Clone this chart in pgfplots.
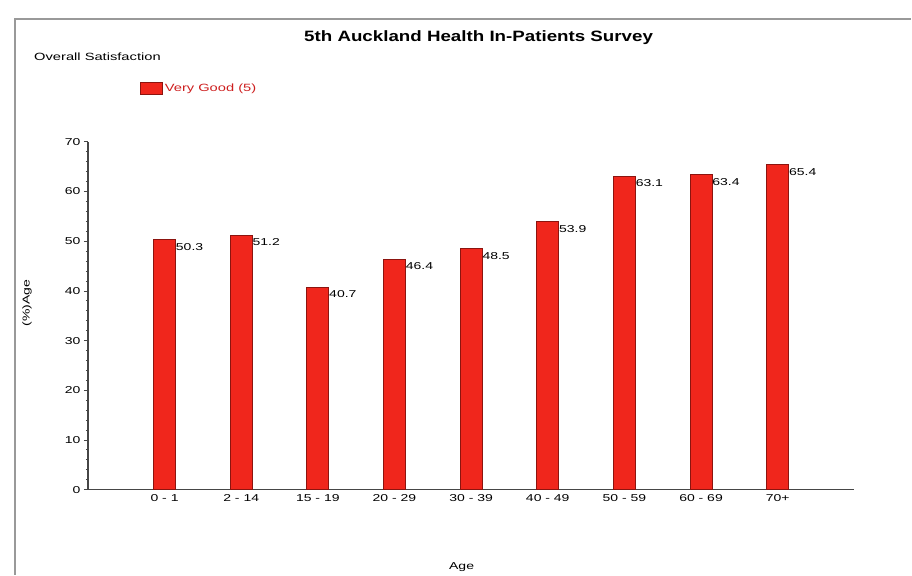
\documentclass[border=0pt]{standalone}
\usepackage{fontspec}
\setmainfont[FakeStretch=1.4]{Liberation Sans}
\newfontfamily\titlefont[FakeStretch=1.25]{Liberation Sans}
\usepackage{pgfplots}
\pgfplotsset{compat=1.18}
\definecolor{barred}{RGB}{240,38,28}
\definecolor{baredge}{RGB}{140,20,15}
\definecolor{legred}{RGB}{205,30,30}
\definecolor{axgray}{RGB}{70,70,70}
\begin{document}
\begin{tikzpicture}[x=1pt,y=1pt]
\path (0,0) rectangle (912,575);
\draw[gray!80, line width=1.5pt] (15,0) -- (15,556) -- (912,556);
\node[font=\titlefont\bfseries\fontsize{15}{17}\selectfont] at (479,537) {5th Auckland Health In-Patients Survey};
\node[anchor=west, inner sep=0pt, font=\fontsize{10.5}{12}\selectfont] at (34,518) {Overall Satisfaction};
\begin{axis}[
  at={(88pt,85pt)}, anchor=south west,
  scale only axis, width=767pt, height=348pt,
  xmin=-1, xmax=9, ymin=0, ymax=70,
  axis lines*=left,
  axis line style={axgray, line width=1.2pt},
  ybar, bar width=22pt,
  xtick=data,
  xticklabels={0 - 1, 2 - 14, 15 - 19, 20 - 29, 30 - 39, 40 - 49, 50 - 59, 60 - 69, 70+},
  x tick style={draw=none},
  x tick label style={yshift=3pt},
  ytick={0,10,...,70},
  minor y tick num=4,
  y tick style={axgray, line width=0.8pt},
  tick align=outside,
  major tick length=4pt, minor tick length=2pt,
  tick label style={font=\fontsize{10}{11}\selectfont},
  /pgf/number format/assume math mode=true,
  xlabel={Age}, ylabel={(\%)Age},
  label style={font=\fontsize{10}{11}\selectfont},
  x label style={at={(axis description cs:0.4876,0)}, anchor=center, yshift=-78pt},
  y label style={at={(axis description cs:-0.0795,0.537)}, anchor=center, rotate=0},
  nodes near coords,
  nodes near coords style={font=\fontsize{10}{11}\selectfont, anchor=north west, xshift=10pt, yshift=-2pt, inner sep=1pt,
    /pgf/number format/.cd, fixed, fixed zerofill, precision=1, assume math mode=true},
  legend style={at={(axis description cs:0.0678,1.155)}, anchor=west, draw=none, fill=none, inner sep=0pt,
    font=\fontsize{10.5}{12}\selectfont\color{legred}},
  legend image code/.code={\draw[fill=barred, draw=baredge] (0pt,-6pt) rectangle (22pt,6pt);},
  legend cell align=left,
]
\addplot[fill=barred, draw=baredge, line width=0.8pt] coordinates {
  (0,50.3) (1,51.2) (2,40.7) (3,46.4) (4,48.5) (5,53.9) (6,63.1) (7,63.4) (8,65.4)
};
\addlegendentry{Very Good (5)}
\end{axis}
\end{tikzpicture}
\end{document}
